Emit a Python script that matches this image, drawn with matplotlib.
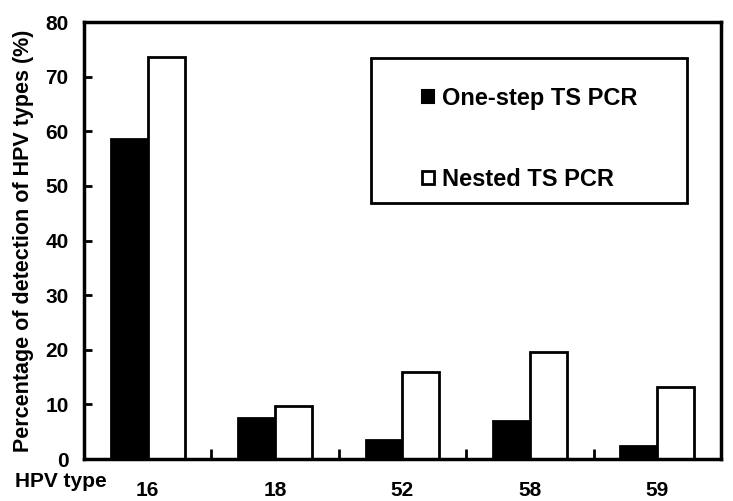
import matplotlib.pyplot as plt
import numpy as np
from matplotlib.patches import Patch, Rectangle

plt.rcParams['font.family'] = ['Liberation Sans', 'DejaVu Sans']
plt.rcParams['font.weight'] = 'bold'

# data
hpv_types = ["16", "18", "52", "58", "59"]
one_step = [58.6, 7.5, 3.5, 7.0, 2.4]
nested = [73.6, 9.7, 15.9, 19.6, 13.2]

fig = plt.figure(figsize=(7.33, 5.01), dpi=100)
ax = fig.add_axes([0.1146, 0.0838, 0.8690, 0.8722])

x = np.arange(len(hpv_types))
w = 0.29
ax.bar(x - w / 2, one_step, w, color='black', edgecolor='black', linewidth=2)
ax.bar(x + w / 2, nested, w, color='white', edgecolor='black', linewidth=2)

ax.set_xlim(-0.5, len(hpv_types) - 0.5)
ax.set_ylim(0, 80)
ax.set_yticks(range(0, 81, 10))
ax.tick_params(axis='y', direction='in', length=6, width=2, labelsize=15, pad=11)

# group labels under the axis, small ticks between groups
ax.set_xticks(x)
ax.set_xticklabels(hpv_types, fontsize=15, fontweight='bold')
ax.tick_params(axis='x', which='major', length=0, pad=16)
ax.set_xticks(np.arange(0.5, len(hpv_types) - 0.5, 1), minor=True)
ax.tick_params(axis='x', which='minor', direction='in', length=7, width=2)

for s in ax.spines.values():
    s.set_linewidth(2.5)

ax.set_ylabel("Percentage of detection of HPV types (%)", fontsize=15.5,
              fontweight='bold', labelpad=8)
fig.text(0.02, 0.038, "HPV type", fontsize=15, fontweight='bold', va='center')

# legend box
ax.add_patch(Rectangle((0.45, 0.586), 0.497, 0.332, transform=ax.transAxes,
                       facecolor='white', edgecolor='black', linewidth=2,
                       zorder=3))
handles = [Patch(facecolor='black', edgecolor='black', linewidth=1.5),
           Patch(facecolor='white', edgecolor='black', linewidth=2)]
leg = ax.legend(handles, ["One-step TS PCR", "Nested TS PCR"],
                loc='upper left', bbox_to_anchor=(0.497, 0.9),
                frameon=False, handlelength=0.5,
                handleheight=0.5, handletextpad=0.35, labelspacing=2.45,
                prop={'weight': 'bold', 'size': 17})
leg.set_zorder(4)

fig.savefig("out.png", dpi=100)
